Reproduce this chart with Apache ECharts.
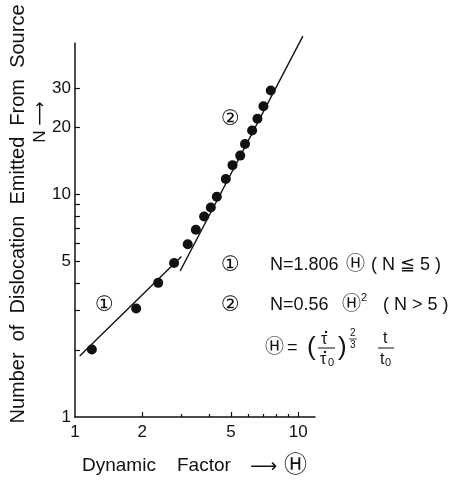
<!DOCTYPE html>
<html>
<head>
<meta charset="utf-8">
<script src="https://cdn.jsdelivr.net/npm/echarts@6/dist/echarts.min.js"></script>
<style>
  html, body { margin: 0; padding: 0; background: #fff; }
  #chart { width: 472px; height: 482px; }
</style>
</head>
<body>
<div id="chart"></div>
<script>
  // 测量点 (Θ, N)
  var dynamicFactor = [1.19, 1.88, 2.36, 2.78, 3.2, 3.48, 3.79, 4.06, 4.32, 4.74, 5.08, 5.5, 5.78, 6.22, 6.57, 6.99, 7.54];
  var dislocations = [2.01, 3.07, 4.0, 4.91, 5.96, 6.92, 7.94, 8.72, 9.73, 11.7, 13.5, 14.9, 16.8, 19.3, 21.8, 24.8, 29.2];
  // 拟合直线端点
  var fit1X = [1.05, 3.0];
  var fit1Y = [1.88, 5.25];
  var fit2X = [2.96, 10.5];
  var fit2Y = [4.52, 51.2];
  // 刻度
  var xLabels = [1, 2, 5, 10];
  var xMajorTicks = [2, 5, 10];
  var xMinorTicks = [3, 4, 6, 7, 8, 9];
  var yLabels = [1, 5, 10, 20, 30];
  var yTicks = [2, 3, 4, 5, 6, 7, 8, 9, 10, 20, 30];

  function pairs(xs, ys) {
    return xs.map(function (x, i) { return [x, ys[i]]; });
  }

  var font = "'Liberation Sans', 'DejaVu Sans', 'Noto Sans CJK JP'";
  var ink = '#111';

  function txt(x, y, text, size, rotation, align) {
    var el = {
      type: 'text',
      x: x,
      y: y,
      style: {
        text: text,
        fill: ink,
        font: size + 'px ' + font,
        textAlign: align || 'left',
        textVerticalAlign: 'middle'
      }
    };
    if (rotation) el.rotation = rotation;
    return el;
  }

  function rule(x1, x2, y, w) {
    return { type: 'line', shape: { x1: x1, y1: y, x2: x2, y2: y }, style: { stroke: ink, lineWidth: w } };
  }

  function dot(cx, cy) {
    return { type: 'circle', shape: { cx: cx, cy: cy, r: 1.2 }, style: { fill: ink } };
  }

  var chart = echarts.init(document.getElementById('chart'));
  chart.setOption({
    animation: false,
    backgroundColor: '#fff',
    grid: {
      left: 75,
      right: 157,
      top: 43,
      bottom: 65,
      containLabel: false,
      outerBoundsMode: 'none'
    },
    xAxis: [{
      type: 'log',
      min: 1,
      max: 11.9,
      axisLine: { lineStyle: { color: ink, width: 1.5 } },
      splitLine: { show: false },
      axisTick: { inside: true, length: 5, customValues: xMajorTicks, lineStyle: { color: ink, width: 1.2 } },
      axisLabel: { customValues: xLabels, color: ink, fontSize: 17, fontFamily: font, margin: 7 }
    }, {
      type: 'log',
      min: 1,
      max: 11.9,
      position: 'bottom',
      axisLine: { show: false },
      splitLine: { show: false },
      axisTick: { inside: true, length: 3, customValues: xMinorTicks, lineStyle: { color: ink, width: 1.2 } },
      axisLabel: { show: false }
    }],
    yAxis: {
      type: 'log',
      min: 1,
      max: 47.7,
      axisLine: { show: true, lineStyle: { color: ink, width: 1.5 } },
      splitLine: { show: false },
      axisTick: { show: true, inside: true, length: 5, customValues: yTicks, lineStyle: { color: ink, width: 1.2 } },
      axisLabel: { customValues: yLabels, color: ink, fontSize: 17, fontFamily: font, margin: 4 }
    },
    series: [{
      type: 'scatter',
      data: pairs(dynamicFactor, dislocations),
      symbolSize: 10,
      itemStyle: { color: ink, opacity: 1 }
    }, {
      type: 'line',
      data: pairs(fit1X, fit1Y),
      showSymbol: false,
      clip: false,
      lineStyle: { color: ink, width: 1.4 }
    }, {
      type: 'line',
      data: pairs(fit2X, fit2Y),
      showSymbol: false,
      clip: false,
      lineStyle: { color: ink, width: 1.4 }
    }],
    graphic: [
      // 坐标轴标题
      txt(18, 214, 'Number  of  Dislocation  Emitted  From  Source', 20, Math.PI / 2, 'center'),
      txt(40, 122, 'N ⟶', 17, Math.PI / 2, 'center'),
      txt(82, 466, 'Dynamic', 19),
      txt(177, 466, 'Factor', 19),
      txt(250, 467, '⟶', 19),
      txt(284, 466, 'Ⓗ', 23),
      // 曲线编号
      txt(95, 305, '①', 21),
      txt(221, 119, '②', 21),
      // 公式
      txt(221, 265, '①', 21),
      txt(270, 265, 'N=1.806', 18),
      txt(346, 265, 'Ⓗ', 19),
      txt(371, 265, '( N ≦ 5 )', 18),
      txt(221, 305, '②', 21),
      txt(270, 305, 'N=0.56', 18),
      txt(342, 305, 'Ⓗ', 19),
      txt(361, 298, '2', 11),
      txt(383, 305, '( N > 5 )', 18),
      txt(265, 348, 'Ⓗ', 19),
      txt(287, 348, '=', 18),
      txt(307, 348, '(', 26),
      txt(321, 340, 'τ', 16),
      dot(326, 332),
      rule(318, 335, 348, 1),
      txt(320, 360, 'τ', 16),
      dot(325, 352),
      txt(328, 363, '0', 11),
      txt(338, 348, ')', 26),
      txt(350, 333, '2', 10),
      rule(349, 357, 339, 0.8),
      txt(350, 345, '3', 10),
      txt(383, 339, 't', 16),
      rule(378, 394, 348, 1),
      txt(380, 360, 't', 16),
      txt(385, 363, '0', 11)
    ]
  });
</script>
</body>
</html>
